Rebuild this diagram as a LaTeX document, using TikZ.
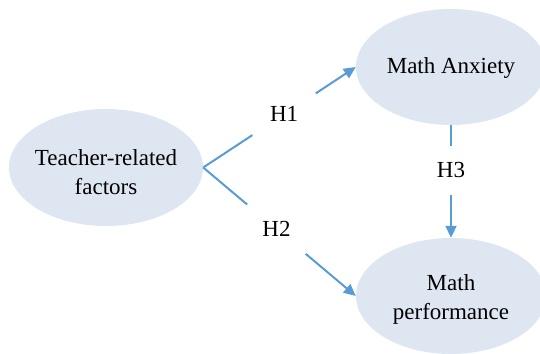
\documentclass[tikz,border=0pt]{standalone}
\usepackage{fontspec}
\setmainfont{Liberation Serif}
\usetikzlibrary{shapes.geometric,arrows.meta}
\definecolor{lineblue}{HTML}{5B9BD5}
\definecolor{fillblue}{HTML}{DEE6F1}
\tikzset{
  ell/.style={ellipse, fill=fillblue, draw=none, inner sep=0pt},
  txt/.style={align=center, inner sep=0pt, font=\fontsize{23}{29}\selectfont},
  lbl/.style={minimum width=63pt, minimum height=49pt, inner sep=0pt, font=\fontsize{23}{29}\selectfont},
  conn/.style={draw=lineblue, line width=2pt},
  arr/.style={conn, -{Triangle[length=12pt,width=11pt]}}
}
\begin{document}
\begin{tikzpicture}[x=1pt,y=-1pt]
\useasboundingbox (0,0) rectangle (540,353);
\node[ell, minimum width=194pt, minimum height=117pt] (L) at (106,167.5) {};
\node[txt] (Lt) at ([yshift=-5pt]L.center) {Teacher-related\\factors};
\node[ell, minimum width=190pt, minimum height=116pt] (A) at (451,67) {};
\node[txt] (At) at ([yshift=-1pt]A.center) {Math Anxiety};
\node[ell, minimum width=190pt, minimum height=116pt] (P) at (451,296) {};
\node[txt] (Pt) at ([yshift=-3pt]P.center) {Math\\performance};
\path (L.east) -- node[lbl, pos=0.53] (h1) {H1} (A.west);
\path (L.east) -- node[lbl, pos=0.48] (h2) {H2} (P.west);
\path (A.south) -- node[lbl, pos=0.40] (h3) {H3} (P.north);
\draw[conn] (L.east) -- (h1);
\draw[arr] (h1) -- (A.west);
\draw[conn] (L.east) -- (h2);
\draw[arr] (h2) -- (P.west);
\draw[conn] (A.south) -- (h3);
\draw[arr] (h3) -- (P.north);
\end{tikzpicture}
\end{document}
